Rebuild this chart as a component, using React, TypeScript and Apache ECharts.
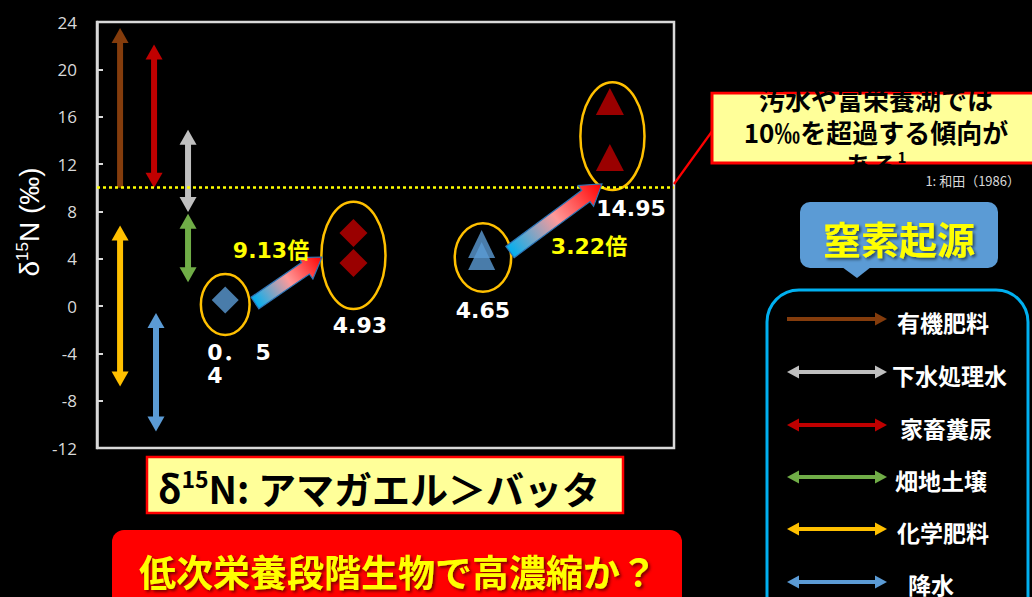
import React, { useEffect, useRef } from 'react';
import * as echarts from 'echarts';

// ---- data ----
const sourceNames = ['有機肥料', '下水処理水', '家畜糞尿', '畑地土壌', '化学肥料', '降水'];
const sourceColors = ['#843c0c', '#bfbfbf', '#c00000', '#70ad47', '#ffc000', '#5b9bd5'];
const sourceX = [0.18, 0.71, 0.445, 0.71, 0.18, 0.46];
const sourceLow = [10, 7.95, 10, 2.0, -6.8, -10.6];
const sourceHigh = [23.5, 14.9, 22.1, 7.8, 6.8, -0.6];
const sourceBothHeads = [false, true, true, true, true, true];

const yMin = -12;
const yMax = 24;
const yInterval = 4;
const thresholdY = 10;

const blueDiamond = [[1, 0.5]];
const redDiamonds = [[2, 6.17], [2, 3.63]];
const blueTriangles = [[3, 5.24], [3, 4.23]];
const redTriangles = [[4, 17.28], [4, 12.55]];

// ellipse: [xCenter, halfWidth, yLow, yHigh]
const groupEllipses = [
  [1.0, 0.19, -2.45, 2.7],
  [2.0, 0.25, -0.25, 8.8],
  [3.01, 0.22, 1.2, 7.0],
  [4.02, 0.25, 9.8, 18.9],
];

const valueLabelText = ['0．　5\n4', '4.93', '4.65', '14.95'];
const valueLabelX = [0.86, 2.05, 3.01, 4.165];
const valueLabelY = [-4.86, -1.69, -0.42, 8.2];
const valueLabelAlign = ['left', 'center', 'center', 'center'];

const ratioText = ['9.13倍', '3.22倍'];
const ratioX = [1.357, 3.837];
const ratioY = [4.73, 5.07];

// trend arrows: [x0, y0, x1, y1]
const trendArrows = [
  [1.232, 0.25, 1.755, 4.14],
  [3.221, 4.56, 3.938, 10.31],
];

const calloutLines = ['汚水や富栄養湖では', '10‰を超過する傾向が'];
const calloutLast = 'ある';
const citation = '1: 和田（1986）';
const originTitle = '窒素起源';
const compareText = 'N: アマガエル＞バッタ';
const questionText = '低次栄養段階生物で高濃縮か？';

const JP = "'Noto Sans CJK JP', sans-serif";

function hArrow(x0: number, x1: number, y: number, color: string, both: boolean) {
  const sw = 2, hw = 6.5, hl = 12;
  const children: any[] = [];
  const sx0 = both ? x0 + hl - 1 : x0;
  children.push({ type: 'rect', shape: { x: sx0, y: y - sw, width: x1 - hl + 1 - sx0, height: sw * 2 }, style: { fill: color } });
  children.push({ type: 'polygon', shape: { points: [[x1, y], [x1 - hl, y - hw], [x1 - hl, y + hw]] }, style: { fill: color } });
  if (both) children.push({ type: 'polygon', shape: { points: [[x0, y], [x0 + hl, y - hw], [x0 + hl, y + hw]] }, style: { fill: color } });
  return { type: 'group', children };
}

export default function App() {
  const ref = useRef<HTMLDivElement>(null);
  useEffect(() => {
    if (!ref.current) return;
    const chart = echarts.init(ref.current, undefined, { renderer: 'svg' });

    const legendYs = [319, 372, 425, 477, 529, 582];
    const legendLabelX = [897, 892, 900, 895, 897, 908];
    const legendEls: any[] = [];
    sourceNames.forEach((n, i) => {
      legendEls.push(hArrow(787, 887, legendYs[i], sourceColors[i], sourceBothHeads[i]));
      legendEls.push({
        type: 'text', x: legendLabelX[i], y: Math.min(legendYs[i] + 3, 584),
        style: { text: n, fill: '#ffffff', font: `bold 23px ${JP}`, textAlign: 'left', textVerticalAlign: 'middle' },
      });
    });

    const option: any = {
      backgroundColor: '#000000',
      animation: false,
      grid: { left: 97, top: 22, right: 358, bottom: 149, show: true, borderColor: '#d9d9d9', borderWidth: 2.5 },
      xAxis: {
        type: 'value', min: 0, max: 4.5,
        axisLine: { show: false }, axisTick: { show: false }, axisLabel: { show: false }, splitLine: { show: false },
      },
      yAxis: {
        type: 'value', min: yMin, max: yMax, interval: yInterval,
        axisLine: { show: true, lineStyle: { color: '#d9d9d9', width: 2.5 } },
        axisTick: { show: true, inside: true, length: 6, lineStyle: { color: '#d9d9d9', width: 2 } },
        axisLabel: { color: '#d9d9d9', fontSize: 17, fontFamily: 'Open Sans', margin: 20 },
        splitLine: { show: false },
      },
      series: [
        {
          type: 'custom', name: 'sources', silent: true, z: 3,
          data: sourceNames.map((n, i) => [sourceX[i], sourceLow[i], sourceHigh[i]]),
          encode: { x: 0, y: [1, 2] },
          renderItem: (params: any, api: any) => {
            const i = params.dataIndex;
            const x = api.value(0), lo = api.value(1), hi = api.value(2);
            const top = api.coord([x, hi]);
            const bot = api.coord([x, lo]);
            const color = sourceColors[i];
            const both = sourceBothHeads[i];
            const hw = 8.5, hl = 15, sw = 3;
            const cx = top[0];
            const shaftTop = top[1] + hl - 1;
            const shaftBot = both ? bot[1] - hl + 1 : bot[1];
            const children: any[] = [
              { type: 'rect', shape: { x: cx - sw, y: shaftTop, width: sw * 2, height: shaftBot - shaftTop }, style: { fill: color } },
              { type: 'polygon', shape: { points: [[cx, top[1]], [cx - hw, top[1] + hl], [cx + hw, top[1] + hl]] }, style: { fill: color } },
            ];
            if (both) children.push({ type: 'polygon', shape: { points: [[cx, bot[1]], [cx - hw, bot[1] - hl], [cx + hw, bot[1] - hl]] }, style: { fill: color } });
            return { type: 'group', children };
          },
        },
        {
          type: 'custom', name: 'ellipses', silent: true, z: 3,
          data: groupEllipses,
          encode: { x: 0, y: [2, 3] },
          renderItem: (params: any, api: any) => {
            const xc = api.value(0), hw = api.value(1), lo = api.value(2), hi = api.value(3);
            const a = api.coord([xc - hw, hi]);
            const b = api.coord([xc + hw, lo]);
            return {
              type: 'ellipse',
              shape: { cx: (a[0] + b[0]) / 2, cy: (a[1] + b[1]) / 2, rx: (b[0] - a[0]) / 2, ry: (b[1] - a[1]) / 2 },
              style: { fill: 'none', stroke: '#ffc000', lineWidth: 2.5 },
            };
          },
        },
        {
          type: 'scatter', name: 'blueDiamond', data: blueDiamond, symbol: 'diamond', symbolSize: [27, 27],
          itemStyle: { color: '#5b9bd5' }, z: 4,
          markLine: {
            silent: true, symbol: 'none', label: { show: false },
            lineStyle: { color: '#ffff00', type: [3, 3], width: 2.5 },
            data: [{ yAxis: thresholdY }],
          },
        },
        { type: 'scatter', name: 'redDiamonds', data: redDiamonds, symbol: 'diamond', symbolSize: [28, 28], itemStyle: { color: '#c00000' }, z: 4 },
        { type: 'scatter', name: 'blueTriangles', data: blueTriangles, symbol: 'triangle', symbolSize: [27, 28], itemStyle: { color: '#5b9bd5' }, z: 4 },
        { type: 'scatter', name: 'redTriangles', data: redTriangles, symbol: 'triangle', symbolSize: [28, 27], itemStyle: { color: '#c00000' }, z: 4 },
        {
          type: 'custom', name: 'trend', silent: true, z: 5,
          data: trendArrows,
          encode: { x: [0, 2], y: [1, 3] },
          renderItem: (params: any, api: any) => {
            const p0 = api.coord([api.value(0), api.value(1)]);
            const p1 = api.coord([api.value(2), api.value(3)]);
            const dx = p1[0] - p0[0], dy = p1[1] - p0[1];
            const len = Math.hypot(dx, dy);
            const ux = dx / len, uy = dy / len;
            const nx = -uy, ny = ux;
            const sw = 7, hw = 13, hl = 20;
            const nk = [p1[0] - ux * hl, p1[1] - uy * hl];
            const pts = [
              [p0[0] + nx * sw, p0[1] + ny * sw],
              [nk[0] + nx * sw, nk[1] + ny * sw],
              [nk[0] + nx * hw, nk[1] + ny * hw],
              [p1[0], p1[1]],
              [nk[0] - nx * hw, nk[1] - ny * hw],
              [nk[0] - nx * sw, nk[1] - ny * sw],
              [p0[0] - nx * sw, p0[1] - ny * sw],
            ];
            return {
              type: 'polygon', shape: { points: pts },
              style: {
                fill: new echarts.graphic.LinearGradient(p0[0], p0[1], p1[0], p1[1], [
                  { offset: 0, color: '#00b0f0' }, { offset: 0.5, color: '#ff9999' }, { offset: 1, color: '#ff0000' },
                ], true),
                stroke: '#2e75b6', lineWidth: 1.2,
              },
            };
          },
        },
        {
          type: 'custom', name: 'valueLabels', silent: true, z: 6,
          data: valueLabelText.map((t, i) => [valueLabelX[i], valueLabelY[i]]),
          encode: { x: 0, y: 1 },
          renderItem: (params: any, api: any) => {
            const i = params.dataIndex;
            const p = api.coord([api.value(0), api.value(1)]);
            return {
              type: 'text', x: p[0], y: p[1],
              style: {
                text: valueLabelText[i], fill: '#ffffff', font: `bold 22px 'DejaVu Sans', ${JP}`,
                textAlign: valueLabelAlign[i], textVerticalAlign: 'middle', lineHeight: 23,
              },
            };
          },
        },
        {
          type: 'custom', name: 'ratioLabels', silent: true, z: 6,
          data: ratioText.map((t, i) => [ratioX[i], ratioY[i]]),
          encode: { x: 0, y: 1 },
          renderItem: (params: any, api: any) => {
            const i = params.dataIndex;
            const p = api.coord([api.value(0), api.value(1)]);
            return {
              type: 'text', x: p[0], y: p[1],
              style: {
                text: ratioText[i], fill: '#ffff00', font: `bold 22px 'DejaVu Sans', ${JP}`,
                textAlign: 'center', textVerticalAlign: 'middle',
              },
            };
          },
        },
      ],
      graphic: [
        {
          type: 'text', x: 29, y: 222, rotation: Math.PI / 2,
          style: {
            text: '{a|δ}{s|15}{a|N (‰)}', fill: '#ffffff', textAlign: 'center', textVerticalAlign: 'middle',
            rich: {
              a: { fontSize: 28, fontFamily: 'Liberation Sans', fill: '#ffffff', lineHeight: 30 },
              s: { fontSize: 17, fontFamily: 'Liberation Sans', fill: '#ffffff', verticalAlign: 'top', lineHeight: 18 },
            },
          },
        },
        { type: 'line', shape: { x1: 674, y1: 184, x2: 713, y2: 130 }, style: { stroke: '#ff0000', lineWidth: 2.2 } },
        { type: 'rect', shape: { x: 712, y: 93, width: 340, height: 70 }, style: { fill: '#ffff99', stroke: '#ff0000', lineWidth: 3 } },
        {
          type: 'text', x: 876, y: 98,
          style: { text: calloutLines[0], fill: '#000000', font: `bold 26px ${JP}`, textAlign: 'center', textVerticalAlign: 'middle' },
        },
        {
          type: 'text', x: 876, y: 131,
          style: { text: calloutLines[1], fill: '#000000', font: `bold 26px ${JP}`, textAlign: 'center', textVerticalAlign: 'middle' },
        },
        {
          type: 'text', x: 876, y: 164,
          style: {
            text: `{b|${calloutLast}}{s|1}`, textAlign: 'center', textVerticalAlign: 'middle',
            rich: {
              b: { fontSize: 26, fontWeight: 'bold', fontFamily: JP, fill: '#000000', lineHeight: 30 },
              s: { fontSize: 15, fontWeight: 'bold', fontFamily: JP, fill: '#000000', verticalAlign: 'top', lineHeight: 18 },
            },
          },
        },
        { type: 'rect', shape: { x: 700, y: 50, width: 340, height: 41.5 }, style: { fill: '#000000' } },
        { type: 'rect', shape: { x: 700, y: 166.5, width: 340, height: 6 }, style: { fill: '#000000' } },
        {
          type: 'text', x: 1020, y: 180,
          style: { text: citation, fill: '#d9d9d9', font: `13px ${JP}`, textAlign: 'right', textVerticalAlign: 'middle' },
        },
        { type: 'rect', shape: { x: 800, y: 202, width: 198, height: 66, r: 10 }, style: { fill: '#5b9bd5' } },
        { type: 'polygon', shape: { points: [[842, 267], [871, 267], [857, 278]] }, style: { fill: '#5b9bd5' } },
        {
          type: 'text', x: 899, y: 237,
          style: {
            text: originTitle, fill: '#ffff00', font: `bold 38px ${JP}`, textAlign: 'center', textVerticalAlign: 'middle',
            textShadowColor: 'rgba(0,0,0,0.55)', textShadowBlur: 3, textShadowOffsetX: 2, textShadowOffsetY: 2,
          },
        },
        { type: 'rect', shape: { x: 767, y: 290, width: 261, height: 340, r: 32 }, style: { fill: 'none', stroke: '#00b0f0', lineWidth: 3 } },
        ...legendEls,
        { type: 'rect', shape: { x: 147, y: 457, width: 476, height: 56 }, style: { fill: '#ffff99', stroke: '#ff0000', lineWidth: 2.5 } },
        {
          type: 'text', x: 158, y: 487,
          style: {
            text: `{a|δ}{s|15}{a|${compareText}}`, textAlign: 'left', textVerticalAlign: 'middle',
            rich: {
              a: { fontSize: 38, fontWeight: 'bold', fontFamily: JP, fill: '#000000', lineHeight: 42 },
              s: { fontSize: 23, fontWeight: 'bold', fontFamily: JP, fill: '#000000', verticalAlign: 'top', lineHeight: 26 },
            },
          },
        },
        { type: 'rect', shape: { x: 112, y: 530, width: 570, height: 90, r: 12 }, style: { fill: '#ff0000' } },
        {
          type: 'text', x: 398, y: 571,
          style: {
            text: questionText, fill: '#ffff00', font: `bold 37px ${JP}`, textAlign: 'center', textVerticalAlign: 'middle',
            textShadowColor: 'rgba(60,0,0,0.7)', textShadowBlur: 3, textShadowOffsetX: 2, textShadowOffsetY: 2,
          },
        },
      ],
    };
    chart.setOption(option);
    return () => chart.dispose();
  }, []);
  return (
    <div
      ref={ref}
      style={{ position: 'fixed', left: 0, top: 0, width: 1032, height: 597, background: '#000' }}
    />
  );
}
